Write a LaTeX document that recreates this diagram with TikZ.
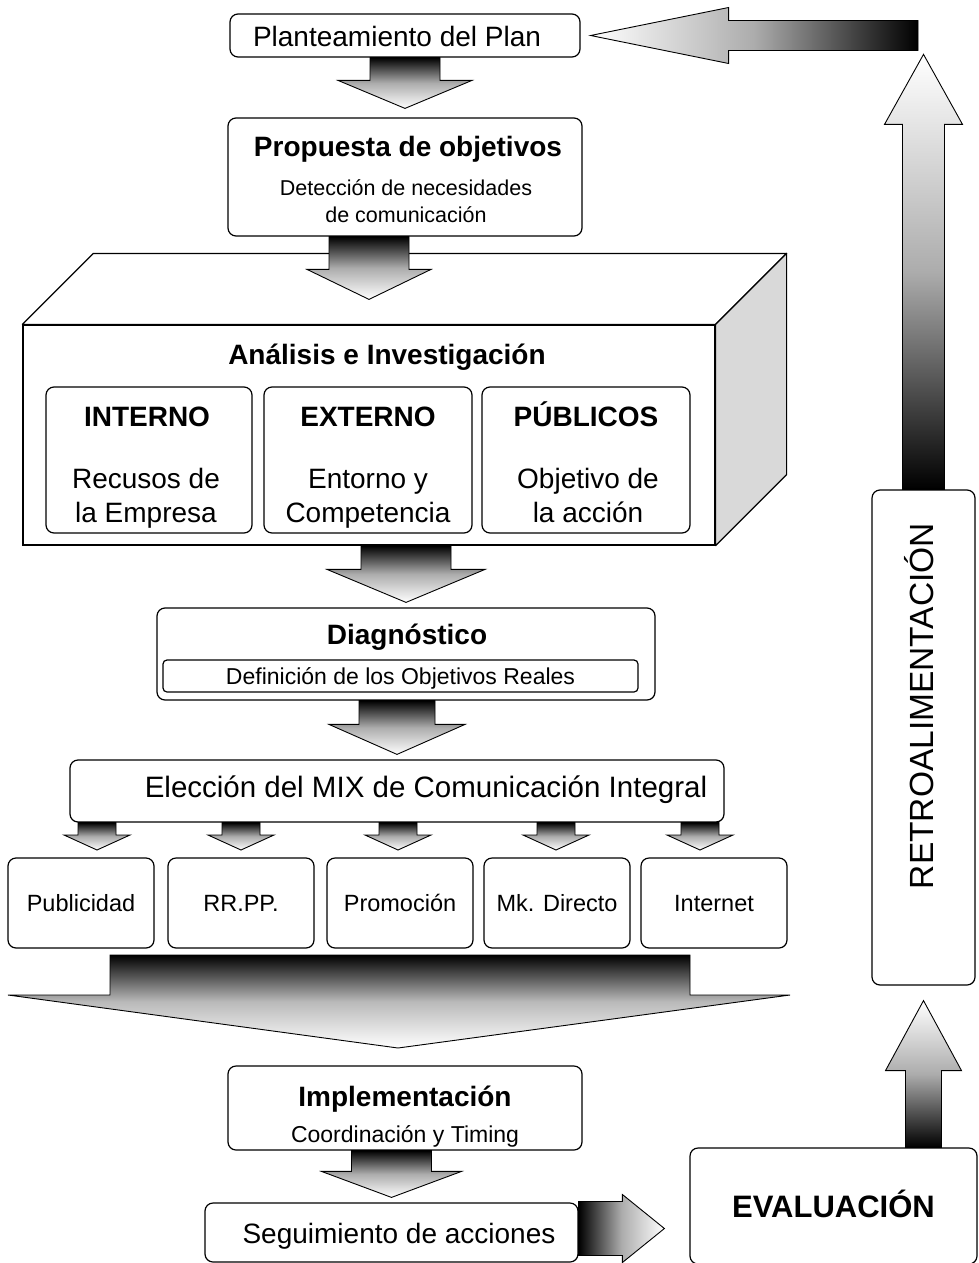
\documentclass[tikz,border=0pt]{standalone}
\usepackage{fontspec}
\setmainfont{Liberation Sans}
\usetikzlibrary{calc}
\newcommand\fbig{\fontsize{28}{32}\selectfont}
\newcommand\felec{\fontsize{29.5}{33}\selectfont}
\newcommand\fsub{\fontsize{21.5}{25}\selectfont}
\newcommand\fsubb{\fontsize{23}{27}\selectfont}
\newcommand\fmix{\fontsize{23.5}{27}\selectfont}
\newcommand\fev{\fontsize{31}{36}\selectfont}
\newcommand\fret{\fontsize{33.5}{38}\selectfont}
% block arrows: #1 start, #2 tip, #3 shaft half width, #4 head half width, #5 head length
\newcommand\blkdown[5]{\shadedraw[blk,top color=black,bottom color=white,middle color=gray!65]
  let \p1=(#1),\p2=(#2) in (\x2-#3pt,\y1)--(\x2+#3pt,\y1)--(\x2+#3pt,\y2+#5pt)--(\x2+#4pt,\y2+#5pt)--(\x2,\y2)--(\x2-#4pt,\y2+#5pt)--(\x2-#3pt,\y2+#5pt)--cycle;}
\newcommand\blkup[5]{\shadedraw[blk,top color=white,bottom color=black,middle color=gray!65]
  let \p1=(#1),\p2=(#2) in (\x2-#3pt,\y1)--(\x2-#3pt,\y2-#5pt)--(\x2-#4pt,\y2-#5pt)--(\x2,\y2)--(\x2+#4pt,\y2-#5pt)--(\x2+#3pt,\y2-#5pt)--(\x2+#3pt,\y1)--cycle;}
\newcommand\blkleft[5]{\shadedraw[blk,left color=white,right color=black,middle color=gray!65]
  let \p1=(#1),\p2=(#2) in (\x1,\y2-#3pt)--(\x2+#5pt,\y2-#3pt)--(\x2+#5pt,\y2-#4pt)--(\x2,\y2)--(\x2+#5pt,\y2+#4pt)--(\x2+#5pt,\y2+#3pt)--(\x1,\y2+#3pt)--cycle;}
\newcommand\blkright[5]{\shadedraw[blk,left color=black,right color=white,middle color=gray!65]
  let \p1=(#1),\p2=(#2) in (\x1,\y2-#3pt)--(\x2-#5pt,\y2-#3pt)--(\x2-#5pt,\y2-#4pt)--(\x2,\y2)--(\x2-#5pt,\y2+#4pt)--(\x2-#5pt,\y2+#3pt)--(\x1,\y2+#3pt)--cycle;}
\begin{document}
\begin{tikzpicture}[x=1pt,y=-1pt,
  box/.style={draw,line width=1.2pt,rounded corners=8pt,fill=white,inner sep=0pt},
  blk/.style={draw,line width=0.9pt,line join=miter},
  txt/.style={inner sep=0pt,font=\fbig,text height=20pt,text depth=0pt},
  bold/.style={inner sep=0pt,font=\fbig\bfseries,text height=20pt,text depth=0pt},
  sub/.style={inner sep=0pt,font=\fsub,text height=15.4pt,text depth=0pt},
  subb/.style={inner sep=0pt,font=\fsubb,text height=16.5pt,text depth=0pt},
  mix/.style={box,minimum width=146,minimum height=90,font=\fmix,text height=17pt,text depth=0pt}]
\useasboundingbox (0,0) rectangle (979,1263);

% ---- Planteamiento
\node[box,minimum width=350,minimum height=43] (plan) at (405,35.5) {};
\node[txt] (plant) at (397,37) {Planteamiento del Plan};

% ---- Propuesta
\node[box,minimum width=354,minimum height=118] (prop) at (405,177) {};
\node[bold] (propt) at (408,146) {Propuesta de objetivos};
\node[sub] (prop1) at (406,188) {Detección de necesidades};
\node[sub] (prop2) at (406,215) {de comunicación};

% ---- 3D box Analisis
\node[draw,line width=1.2pt,fill=white,minimum width=692,minimum height=220,inner sep=0pt] (ana) at (369,435) {};
\filldraw[fill=white,line width=1.2pt,line join=round] (ana.north west) -- ++(71,-71) -- ($(ana.north east)+(71,-71)$) -- (ana.north east) -- cycle;
\filldraw[fill=gray!30,line width=1.2pt,line join=round] (ana.north east) -- ++(71,-71) -- ($(ana.south east)+(71,-71)$) -- (ana.south east) -- cycle;
\node[bold] (anat) at (387,354) {Análisis e Investigación};
\node[box,minimum width=206,minimum height=146] (int) at (149,460) {};
\node[box,minimum width=208,minimum height=146] (ext) at (368,460) {};
\node[box,minimum width=208,minimum height=146] (pub) at (586,460) {};
\node[bold] (intt) at (147,416) {INTERNO};
\node[txt] (int1) at (146,478) {Recusos de};
\node[txt] (int2) at (146,512) {la Empresa};
\node[bold] (extt) at (368,416) {EXTERNO};
\node[txt] (ext1) at (368,478) {Entorno y};
\node[txt] (ext2) at (368,512) {Competencia};
\node[bold] (pubt) at (586,416) {PÚBLICOS};
\node[txt] (pub1) at (588,478) {Objetivo de};
\node[txt] (pub2) at (588,512) {la acción};

% ---- Diagnostico
\node[box,minimum width=498,minimum height=92] (diag) at (406,654) {};
\node[bold] (diagt) at (407,634) {Diagnóstico};
\node[draw,line width=1.2pt,rounded corners=4pt,fill=white,minimum width=475,minimum height=32,inner sep=0pt,font=\fsubb,text height=16.5pt,text depth=0pt] (def) at (400.5,676) {Definición de los Objetivos Reales};

% ---- Eleccion
\node[box,minimum width=654,minimum height=62] (elec) at (397,791) {};
\node[inner sep=0pt,font=\felec,text height=21pt,text depth=0pt] (elect) at (426,787) {Elección del MIX de Comunicación Integral};

% ---- five boxes
\node[mix] (m1) at (81,903) {Publicidad};
\node[mix] (m2) at (241,903) {RR.PP.};
\node[mix] (m3) at (400,903) {Promoción};
\node[mix] (m4) at (557,903) {Mk. Directo};
\node[mix] (m5) at (714,903) {Internet};
\coordinate (a1) at (97,850);
\coordinate (a2) at (241,850);
\coordinate (a3) at (398,850);
\coordinate (a4) at (556,850);
\coordinate (a5) at (700,850);
\foreach \a in {a1,a2,a3,a4,a5}{\blkdown{elec.south -| \a}{\a}{19}{33}{15}}

% ---- wide arrow
\shadedraw[blk,top color=black,bottom color=white,middle color=gray!55]
  (110,955) -- (690,955) -- (690,995) -- (790,995) -- (398,1048) -- (8,995) -- (110,995) -- cycle;

% ---- Implementacion
\node[box,minimum width=354,minimum height=84] (impl) at (405,1108) {};
\node[bold] (implt) at (405,1096) {Implementación};
\node[subb] (impl1) at (405,1134) {Coordinación y Timing};

% ---- Seguimiento
\node[box,minimum width=373,minimum height=59] (seg) at (391.5,1232.5) {};
\node[txt] (segt) at (399,1233) {Seguimiento de acciones};

% ---- Evaluacion
\node[box,minimum width=287,minimum height=116,font=\fev\bfseries,text height=22pt,text depth=0pt] (eval) at (833.5,1206) {EVALUACIÓN};

% ---- Retroalimentacion
\node[box,minimum width=103,minimum height=495] (retro) at (923.5,737.5) {};
\node[rotate=90,inner sep=0pt,font=\fret,text height=24pt,text depth=0pt] (retrot) at (921,706) {RETROALIMENTACIÓN};

% ---- arrows
\blkdown{plan.south}{$(prop.north)+(0,-9)$}{35}{67}{28}
\blkdown{prop.south}{$(ana.north)+(0,-25)$}{40}{62}{30}
\blkdown{ana.south}{$(diag.north)+(0,-5)$}{45}{79}{33}
\blkdown{diag.south}{$(elec.north)+(0,-5)$}{38}{68}{30}
\blkdown{impl.south}{$(seg.north)+(0,-5)$}{40}{70}{26}
\coordinate (rtip) at ($(eval.west |- seg.east)+(-25,-4)$);
\blkright{seg.east}{rtip}{27}{34}{42}
\coordinate (evtop) at (retro.south |- eval.north);
\blkup{evtop}{$(retro.south)+(0,15)$}{18}{38}{70}
\blkup{retro.north}{$(retro.north)+(0,-435)$}{21}{39}{70}
\coordinate (fbr) at (918,37);
\blkleft{fbr}{$(plan.east)+(10,0)$}{15}{28}{138}
\end{tikzpicture}
\end{document}
